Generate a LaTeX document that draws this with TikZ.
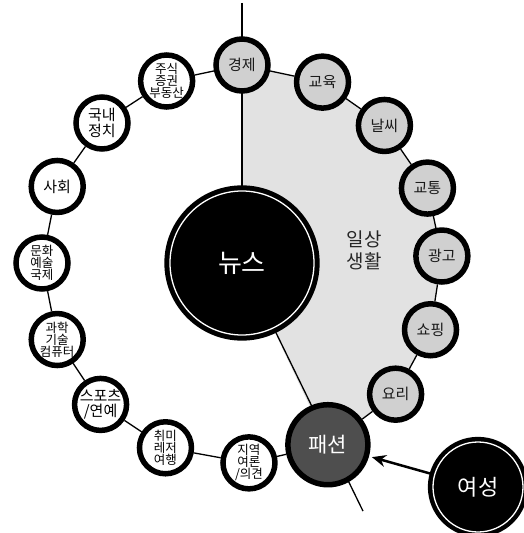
\documentclass[tikz,border=0pt]{standalone}
\usepackage{fontspec}
\setmainfont{Noto Sans CJK KR}
\usetikzlibrary{arrows.meta, backgrounds}
\definecolor{TopicGray}{RGB}{208,208,208}
\definecolor{SectorGray}{RGB}{226,226,226}
\definecolor{FashionGray}{RGB}{78,78,78}

\begin{document}
\begin{tikzpicture}[x=1pt, y=1pt,
  topic/.style={circle, draw=black, line width=5.5pt, fill=white, minimum size=52pt,
                inner sep=0pt, align=center, font=\fontsize{15}{15.5}\selectfont},
  dense/.style={font=\fontsize{12.5}{12}\selectfont},
  daily/.style={topic, fill=TopicGray, text=black!90},
  hub/.style={circle, draw=black, double=white, fill=black, text=white, inner sep=0pt},
  fashion/.style={circle, draw=black, line width=5.5pt, fill=FashionGray, text=white,
                  minimum size=80pt, inner sep=0pt, font=\fontsize{21}{21}\selectfont},
  link/.style={black, line width=1.3pt},
  arr/.style={-{Stealth[length=14pt, width=12pt]}, black, line width=2.5pt, shorten >=3pt},
]
\useasboundingbox (-242,263) rectangle (281,-270);

% centre and the ring of sections
\node[hub, line width=5pt, double distance=1.3pt, minimum size=144pt,
      font=\fontsize{26}{26}\selectfont] (news) at (0,0) {뉴스};

\node[daily] (economy) at (90:198) {경제};
\node[daily] (education) at (66:198) {교육};
\node[daily] (weather) at (44:198) {날씨};
\node[daily] (traffic) at (22:200) {교통};
\node[daily] (ads) at (2:200) {광고};
\node[daily] (shopping) at (-19.5:200) {쇼핑};
\node[daily] (cooking) at (-40.5:202) {요리};
\node[fashion] (fashion) at (-64.7:201) {패션};
\node[topic, dense] (local) at (-88:200) {지역\\여론\\/의견};
\node[topic, dense] (hobby) at (-112.5:200) {취미\\레저\\여행};
\node[topic] (sports) at (-135:200) {스포츠\\/연예};
\node[topic, dense] (science) at (-157.5:200) {과학\\기술\\컴퓨터};
\node[topic, dense] (culture) at (180:200) {문화\\예술\\국제};
\node[topic] (society) at (157.5:200) {사회};
\node[topic] (politics) at (135:198) {국내\\정치};
\node[topic, dense] (stocks) at (112.5:197) {주식\\증권\\부동산};

\node[font=\fontsize{19}{22}\selectfont, align=center, text=black!85] (daylife) at (122,13) {일상\\생활};

\node[hub, line width=4.5pt, double distance=1.3pt, minimum size=90pt,
      font=\fontsize{22}{22}\selectfont] (women) at (236,-224) {여성};

\coordinate (top) at (0,260);
\coordinate (tail) at (-64:276);

\begin{scope}[on background layer]
  \fill[SectorGray] (news.center) -- (economy.center) -- (education.center) -- (weather.center)
    -- (traffic.center) -- (ads.center) -- (shopping.center) -- (cooking.center)
    -- (fashion.center) -- cycle;
  \draw[link] (top) -- (news.center);
  \draw[link] (news.center) -- (tail);
  \draw[link] (economy) -- (education) -- (weather) -- (traffic) -- (ads) -- (shopping)
    -- (cooking) -- (fashion) -- (local) -- (hobby) -- (sports) -- (science) -- (culture)
    -- (society) -- (politics) -- (stocks) -- (economy);
\end{scope}

\draw[arr] (women) -- (fashion);
\end{tikzpicture}
\end{document}
